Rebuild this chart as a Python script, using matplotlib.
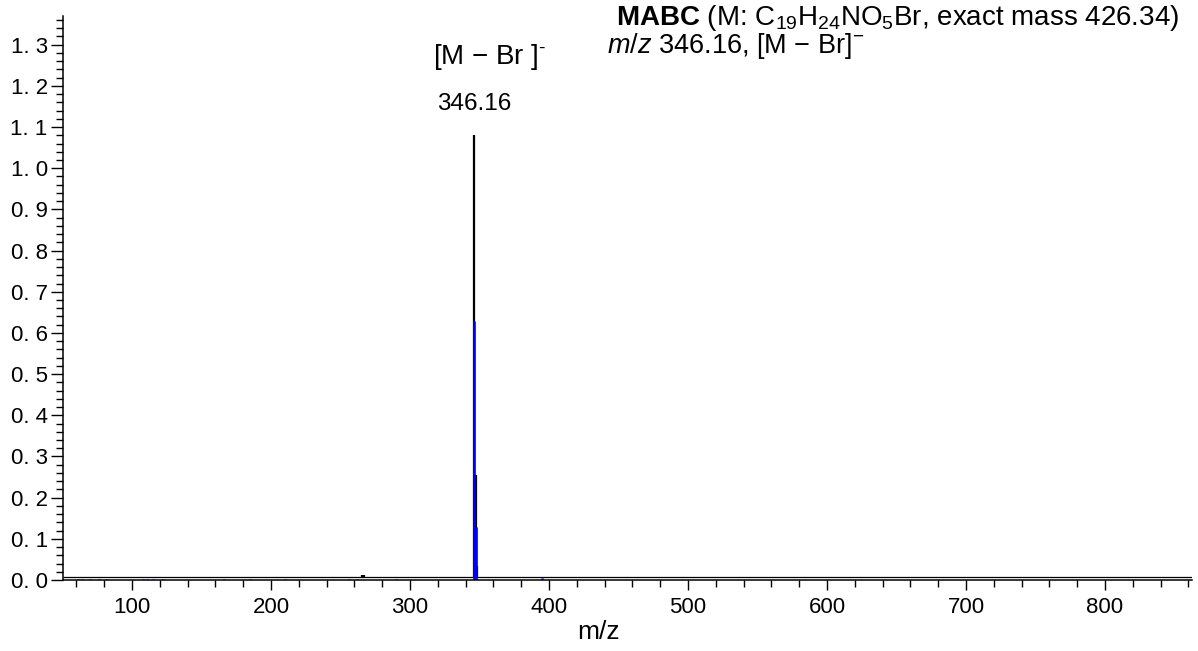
import matplotlib
matplotlib.use("Agg")
import matplotlib.pyplot as plt
from matplotlib.ticker import MultipleLocator, FixedLocator

plt.rcParams['font.family'] = ['Liberation Sans', 'DejaVu Sans']
plt.rcParams['mathtext.fontset'] = 'custom'
plt.rcParams['mathtext.rm'] = 'Liberation Sans'
plt.rcParams['mathtext.it'] = 'Liberation Sans:italic'
plt.rcParams['mathtext.bf'] = 'Liberation Sans:bold'

# measured spectrum (black sticks)
black_mz = [228.1, 265.2, 266.9, 346.16, 347.16, 348.16]
black_int = [0.004, 0.012, 0.012, 1.08, 0.255, 0.035]
baseline = 0.007

# simulated isotope pattern / low noise (blue sticks)
blue_mz = [61, 64, 70, 76, 82, 108, 111, 115, 122, 166, 185, 210, 256, 262, 290,
           346.16, 347.16, 395]
blue_int = [0.003, 0.003, 0.003, 0.003, 0.003, 0.003, 0.003, 0.003, 0.003, 0.003,
            0.003, 0.003, 0.003, 0.003, 0.003, 0.63, 0.13, 0.004]

yticks = [0.0, 0.1, 0.2, 0.3, 0.4, 0.5, 0.6, 0.7, 0.8, 0.9, 1.0, 1.1, 1.2, 1.3]
ylabels = ['%.1f' % v for v in yticks]
ylabels = [s.replace('.', '. ') for s in ylabels]
xticks = [100, 200, 300, 400, 500, 600, 700, 800]

fig = plt.figure(figsize=(11.98, 6.51), dpi=100)
ax = fig.add_axes([0.0526, 0.109, 0.9424, 0.866])

ax.hlines(baseline, 50.4, 862.6, color='black', lw=0.9)
ax.vlines(black_mz, baseline, black_int, color='black', lw=1.6)
ax.vlines(blue_mz, 0, blue_int, color='#0000ff', lw=1.9)

ax.set_xlim(50.4, 862.6)
ax.set_ylim(0, 1.369)

for s in ['top', 'right']:
    ax.spines[s].set_visible(False)
ax.spines['left'].set_linewidth(1.1)
ax.spines['bottom'].set_linewidth(1.1)

ax.xaxis.set_major_locator(FixedLocator(xticks))
ax.xaxis.set_minor_locator(MultipleLocator(20))
ax.yaxis.set_major_locator(FixedLocator(yticks))
ax.yaxis.set_minor_locator(MultipleLocator(0.02))
ax.set_yticklabels(ylabels)
ax.tick_params(axis='x', which='major', length=7, width=1, labelsize=16, pad=5)
ax.tick_params(axis='x', which='minor', length=5, width=1)
ax.tick_params(axis='y', which='major', length=9, width=1, labelsize=16, pad=2)
ax.tick_params(axis='y', which='minor', length=5, width=1)

ax.set_xlabel('m/z', fontsize=19, va='center')
ax.xaxis.set_label_coords(0.474, -0.093)

ax.text(black_mz[3] + 11, 1.27, r'[M $-$ Br ]$^{\text{-}}$', ha='center', va='center', fontsize=20)
ax.text(black_mz[3], 1.155, '346.16', ha='center', va='center', fontsize=17.5)

fig.text(0.514, 0.972, r'$\mathbf{MABC}$ (M: C$_{19}$H$_{24}$NO$_5$Br, exact mass 426.34)',
         ha='left', va='center', fontsize=20)
fig.text(0.507, 0.93, r'$m/z$ 346.16, [M $-$ Br]$^{-}$',
         ha='left', va='center', fontsize=19.5)

fig.savefig('out.png', dpi=100)
